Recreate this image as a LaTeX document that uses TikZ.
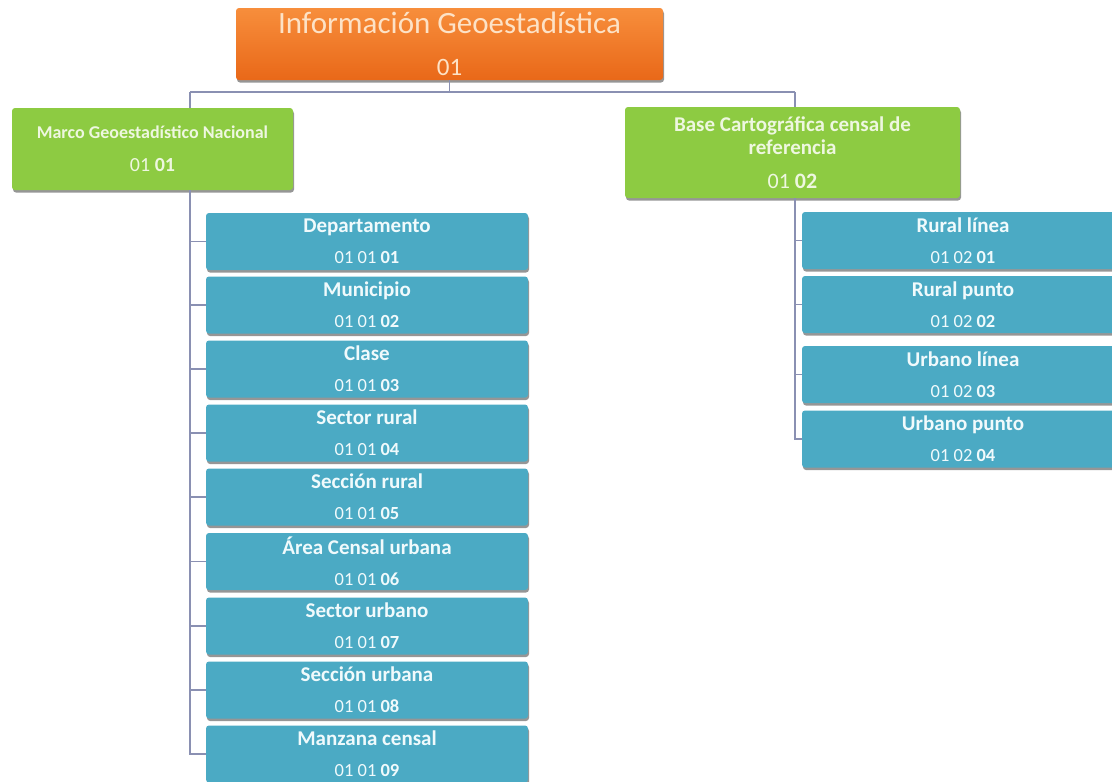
\documentclass[tikz,border=0pt]{standalone}
\usepackage{fontspec}
\setmainfont{Carlito}
\usepackage{tikz}
\usetikzlibrary{positioning,calc,shadows}

\definecolor{orangeTop}{RGB}{247,142,60}
\definecolor{orangeBot}{RGB}{233,104,24}
\definecolor{greenBox}{RGB}{141,203,66}
\definecolor{blueBox}{RGB}{75,170,196}
\definecolor{lineGray}{RGB}{138,144,178}
\definecolor{peach}{RGB}{253,226,198}
\definecolor{paleGreen}{RGB}{238,247,224}
\definecolor{paleBlue}{RGB}{240,250,252}

\newcommand{\boxcode}[3][18.5]{{\fontsize{#1}{31}\selectfont\mdseries #2 \textbf{#3}}}

\tikzset{
  box/.style={rectangle,rounded corners=3pt,inner sep=0pt,align=center,
    drop shadow={shadow xshift=1pt,shadow yshift=-2.5pt,opacity=.55,fill=black!75}},
  topbox/.style={box,top color=orangeTop,bottom color=orangeBot,text=peach,
    minimum width=427,minimum height=72,font=\fontsize{31}{42}\selectfont},
  groupbox/.style={box,fill=greenBox,text=paleGreen,minimum height=82,
    font=\fontsize{18}{33}\selectfont\bfseries},
  leafbox/.style={box,fill=blueBox,text=paleBlue,minimum width=322,minimum height=57,
    font=\fontsize{21}{31}\selectfont\bfseries},
  conn/.style={draw=lineGray,line width=1.4pt}
}

\begin{document}
\begin{tikzpicture}[x=1pt,y=-1pt]
    \useasboundingbox (0,0) rectangle (1112,782);
    % raiz
    \node[topbox] (info) at (449.5,44) {Información Geoestadística\\{\fontsize{25}{42}\selectfont 01}};
    % grupos
    \node[groupbox,minimum width=281] (mgn) at (152.5,149)
        {Marco Geoestadístico Nacional\\\boxcode[20]{01}{01}};
    \node[groupbox,minimum width=335,minimum height=91,font=\fontsize{21}{23}\selectfont\bfseries]
        (bcr) at (792.5,152.5)
        {Base Cartográfica censal de\\referencia\\[11pt]\boxcode[22]{01}{02}};
    % Marco Geoestadistico Nacional
    \node[leafbox] (dep)  at (367,241.5) {Departamento\\\boxcode{01 01}{01}};
    \node[leafbox] (mun)  at (367,305)   {Municipio\\\boxcode{01 01}{02}};
    \node[leafbox] (cla)  at (367,369)   {Clase\\\boxcode{01 01}{03}};
    \node[leafbox] (secr) at (367,433)   {Sector rural\\\boxcode{01 01}{04}};
    \node[leafbox] (seur) at (367,497)   {Sección rural\\\boxcode{01 01}{05}};
    \node[leafbox] (acu)  at (367,561.5) {Área Censal urbana\\\boxcode{01 01}{06}};
    \node[leafbox] (secu) at (367,626)   {Sector urbano\\\boxcode{01 01}{07}};
    \node[leafbox] (seuu) at (367,690)   {Sección urbana\\\boxcode{01 01}{08}};
    \node[leafbox] (man)  at (367,754)   {Manzana censal\\\boxcode{01 01}{09}};
    % Base Cartografica
    \node[leafbox] (rlin) at (963,240.5) {Rural línea\\\boxcode{01 02}{01}};
    \node[leafbox] (rpun) at (963,304.5) {Rural punto\\\boxcode{01 02}{02}};
    \node[leafbox] (ulin) at (963,374.5) {Urbano línea\\\boxcode{01 02}{03}};
    \node[leafbox] (upun) at (963,439)   {Urbano punto\\\boxcode{01 02}{04}};
    % conectores
    \coordinate (busL) at (190,92);
    \coordinate (busR) at (795,92);
    \draw[conn] (info.south) -- (info.south |- busL);
    \draw[conn] (busL) -- (busR);
    \draw[conn] (busL) -- (busL |- mgn.north);
    \draw[conn] (busR) -- (busR |- bcr.north);
    \foreach \n in {dep,mun,cla,secr,seur,acu,secu,seuu,man}
        \draw[conn] (busL |- mgn.south) |- (\n.west);
    \foreach \n in {rlin,rpun,ulin,upun}
        \draw[conn] (busR |- bcr.south) |- (\n.west);
\end{tikzpicture}
\end{document}
